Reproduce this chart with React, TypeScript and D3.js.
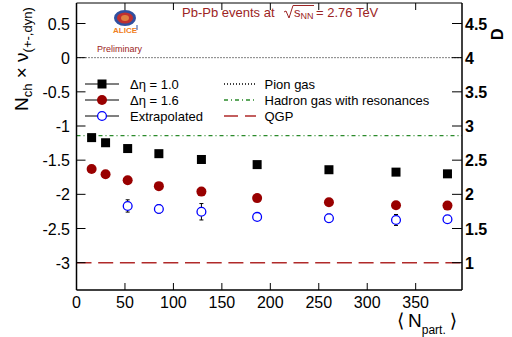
import React from "react";
import * as d3 from "d3";

const NPART = [15.6, 30.0, 52.8, 85.0, 128.9, 186.4, 260.5, 329.7, 382.8];
const NU_DETA10 = [-1.17, -1.245, -1.33, -1.405, -1.49, -1.565, -1.64, -1.675, -1.7];
const NU_DETA16 = [-1.63, -1.705, -1.795, -1.88, -1.96, -2.055, -2.115, -2.16, -2.165];
const NPART_EXT = [52.8, 85.0, 128.9, 186.4, 260.5, 329.7, 382.8];
const NU_EXT = [-2.17, -2.215, -2.255, -2.33, -2.35, -2.375, -2.365];
const NU_EXT_ERR = [0.09, 0.06, 0.12, 0.05, 0.06, 0.08, 0.05];
const PION_GAS = 0;
const HADRON_GAS = -1.14;
const QGP = -3;
const X_TICKS = [0, 50, 100, 150, 200, 250, 300, 350];
const Y_TICKS = [0.5, 0, -0.5, -1, -1.5, -2, -2.5, -3];
const D_TICKS = [4.5, 4, 3.5, 3, 2.5, 2, 1.5, 1];

const FONT = "'Liberation Sans', Arial, Helvetica, sans-serif";
const DARKRED = "#9c2424";

export default function App() {
  const L = 76.5, R = 462, T = 3, B = 290;
  const x = d3.scaleLinear().domain([0, 397.8]).range([L, R]);
  const y = d3.scaleLinear().domain([-3.4, 0.8]).range([B, T]);
  const yD = d3.scaleLinear().domain([0.6, 4.8]).range([B, T]);
  const fmt = (v: number) => String(v);

  const legendL = [
    { label: "\u0394\u03b7 = 1.0", kind: "sq" },
    { label: "\u0394\u03b7 = 1.6", kind: "dot" },
    { label: "Extrapolated", kind: "open" },
  ];
  const legendR = [
    { label: "Pion gas", color: "#000", dash: "1,2" },
    { label: "Hadron gas with resonances", color: "#2a8a2a", dash: "4,3,1,3" },
    { label: "QGP", color: "#b02a2a", dash: "14,7" },
  ];
  const rows = [84, 100, 116];

  const marker = (kind: string, cx: number, cy: number, key?: any) => {
    if (kind === "sq") return <rect key={key} x={cx - 4.5} y={cy - 4.5} width={9} height={9} fill="#000" />;
    if (kind === "dot") return <circle key={key} cx={cx} cy={cy} r={5} fill="#990000" />;
    return <circle key={key} cx={cx} cy={cy} r={4.4} fill="none" stroke="#0000ff" strokeWidth={1.3} />;
  };

  const times = "\u00d7";
  const nu = "\u03bd";
  const langle = "\u27e8";
  const rangle = "\u27e9";

  return (
    <svg width={512} height={337} style={{ position: "absolute", left: 0, top: 0, background: "#fff" }} fontFamily={FONT}>
      <rect width={512} height={337} fill="#fff" />
      {/* reference lines */}
      <line x1={L} x2={R} y1={y(PION_GAS)} y2={y(PION_GAS)} stroke="#000" strokeDasharray="1,2" strokeWidth={1} />
      <line x1={L} x2={R} y1={y(HADRON_GAS)} y2={y(HADRON_GAS)} stroke="#2a8a2a" strokeDasharray="4,3,1,3" strokeWidth={1.3} />
      <line x1={L} x2={R} y1={y(QGP)} y2={y(QGP)} stroke="#b02a2a" strokeDasharray="15,6.7" strokeWidth={1.5} />

      {/* frame */}
      <line x1={L} x2={R} y1={T} y2={T} stroke="#000" strokeWidth={1} />
      <line x1={L} x2={L} y1={T} y2={B} stroke="#000" strokeWidth={1.5} />
      <line x1={R} x2={R} y1={T} y2={B} stroke="#000" strokeWidth={1.5} />
      <line x1={L} x2={R} y1={B} y2={B} stroke="#000" strokeWidth={1.5} />

      {/* x ticks */}
      {X_TICKS.map((t) => (
        <g key={"xt" + t}>
          <line x1={x(t)} x2={x(t)} y1={B} y2={B - 7} stroke="#000" strokeWidth={1} />
          <line x1={x(t)} x2={x(t)} y1={T} y2={T + 7} stroke="#000" strokeWidth={1} />
          <text x={x(t)} y={308} fontSize={16} textAnchor="middle">{fmt(t)}</text>
        </g>
      ))}
      {/* y ticks */}
      {Y_TICKS.map((t) => (
        <g key={"yt" + t}>
          <line x1={L} x2={L + 9} y1={y(t)} y2={y(t)} stroke="#000" strokeWidth={1} />
          <text x={70} y={y(t) + 6} fontSize={16} textAnchor="end">{fmt(t)}</text>
        </g>
      ))}
      {D_TICKS.map((t) => (
        <g key={"dt" + t}>
          <line x1={R} x2={R - 10} y1={yD(t)} y2={yD(t)} stroke="#000" strokeWidth={1} />
          <text x={465} y={yD(t) + 6} fontSize={16} fontWeight="bold">{fmt(t)}</text>
        </g>
      ))}

      {/* data */}
      {NPART.map((n, i) => marker("sq", x(n), y(NU_DETA10[i]), "a" + i))}
      {NPART.map((n, i) => marker("dot", x(n), y(NU_DETA16[i]), "b" + i))}
      {NPART_EXT.map((n, i) => {
        const cx = x(n), cy = y(NU_EXT[i]);
        const y1 = y(NU_EXT[i] + NU_EXT_ERR[i]), y2 = y(NU_EXT[i] - NU_EXT_ERR[i]);
        return (
          <g key={"c" + i}>
            <line x1={cx} x2={cx} y1={y1} y2={y2} stroke="#000" strokeWidth={1} />
            <line x1={cx - 2} x2={cx + 2} y1={y1} y2={y1} stroke="#000" strokeWidth={1} />
            <line x1={cx - 2} x2={cx + 2} y1={y2} y2={y2} stroke="#000" strokeWidth={1} />
            <circle cx={cx} cy={cy} r={4.4} fill="#fff" stroke="#0000ff" strokeWidth={1.3} />
          </g>
        );
      })}

      {/* legend left */}
      {legendL.map((d, i) => (
        <g key={"ll" + i}>
          <line x1={85} x2={119} y1={rows[i]} y2={rows[i]} stroke="#000" strokeWidth={1} />
          {d.kind === "open" ? (
            <circle cx={102} cy={rows[i]} r={4.4} fill="#fff" stroke="#0000ff" strokeWidth={1.3} />
          ) : (
            marker(d.kind, 102, rows[i])
          )}
          <text x={130} y={rows[i] + 4.5} fontSize={13}>{d.label}</text>
        </g>
      ))}
      {legendR.map((d, i) => (
        <g key={"lr" + i}>
          <line x1={224} x2={256} y1={rows[i]} y2={rows[i]} stroke={d.color} strokeDasharray={d.dash} strokeWidth={i === 2 ? 1.5 : 1.3} />
          <text x={264.5} y={rows[i] + 4.5} fontSize={13}>{d.label}</text>
        </g>
      ))}

      {/* title */}
      <g fill={DARKRED} fontSize={13}>
        <text x={182} y={17}>Pb-Pb events at</text>
        <path d="M284,12 L286,11 L289,18 L293,5.5 L314,5.5" fill="none" stroke={DARKRED} strokeWidth={1} />
        <text x={294} y={17}>s<tspan fontSize={9} dy={2}>NN</tspan></text>
        <text x={316} y={17}>= 2.76 TeV</text>
      </g>

      {/* ALICE logo */}
      <g>
        <ellipse cx={125} cy={18} rx={11} ry={8} fill="#3050a0" />
        <ellipse cx={125} cy={18} rx={8} ry={5.5} fill="#c03030" />
        <ellipse cx={125} cy={18} rx={4} ry={3} fill="#e08040" />
        <text x={125} y={32.5} fontSize={8} fontWeight="bold" fill="#f08020" textAnchor="middle">ALICE</text>
        <line x1={137} x2={137} y1={25} y2={30} stroke="#3050a0" strokeWidth={1} />
        <text x={97} y={52} fontSize={9} fill={DARKRED}>Preliminary</text>
      </g>

      {/* y axis title */}
      <text transform="translate(28,111) rotate(-90)" fontSize={19}>
        N<tspan fontSize={13} dy={4}>ch</tspan>
        <tspan dy={-4}>{" " + times + " " + nu}</tspan>
        <tspan fontSize={13} dy={4}>(+-,dyn)</tspan>
      </text>
      <text transform="translate(503,40) rotate(-90)" fontSize={16} fontWeight="bold">D</text>

      {/* x axis title */}
      <text x={397} y={327} fontSize={19}>
        <tspan fontFamily="'DejaVu Sans', sans-serif" fontWeight="200">{langle}</tspan>
        <tspan dx={4}>N</tspan>
        <tspan fontSize={12} dy={7}>part.</tspan>
        <tspan dy={-7} dx={4} fontFamily="'DejaVu Sans', sans-serif">{rangle}</tspan>
      </text>
    </svg>
  );
}
